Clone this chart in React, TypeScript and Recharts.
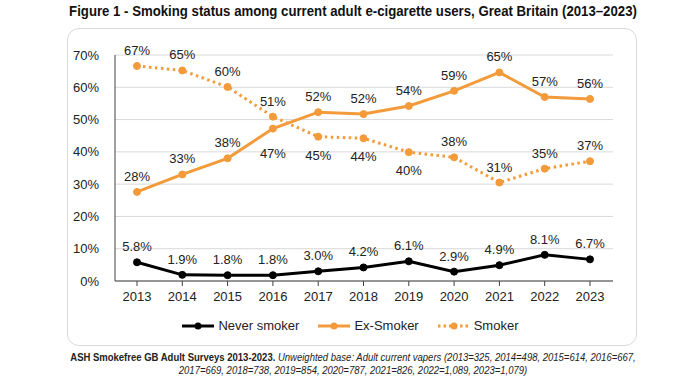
import { CartesianGrid, LabelList, Legend, Line, LineChart, XAxis, YAxis } from "recharts";

const years = ["2013", "2014", "2015", "2016", "2017", "2018", "2019", "2020", "2021", "2022", "2023"];
const neverSmoker = [5.8, 1.9, 1.8, 1.8, 3.0, 4.2, 6.1, 2.9, 4.9, 8.1, 6.7];
const exSmoker = [27.6, 33, 38, 47.2, 52.3, 51.7, 54.2, 58.9, 64.6, 57, 56.4];
const smoker = [66.6, 65.2, 60.1, 50.9, 44.7, 44.2, 39.9, 38.3, 30.5, 34.8, 37.1];
const yTicks = [0, 10, 20, 30, 40, 50, 60, 70];

// label sits under the point for these indices
const exBelow = [3];
const smokerBelow = [4, 5, 6];

const data = years.map((year, i) => ({
  year,
  never: neverSmoker[i],
  ex: exSmoker[i],
  smoker: smoker[i]
}));

const ORANGE = "#f39b3a";
const FONT = "'Liberation Sans', Arial, sans-serif";

function makeLabel(below: number[], decimals: number, belowGap: number) {
  return (props: any) => {
    const { x, y, value, index } = props;
    const isBelow = below.includes(index);
    const cy = isBelow ? y + belowGap : y - 16;
    const text = decimals ? Number(value).toFixed(decimals) : String(Math.round(value));
    return (
      <text x={x} y={cy + 5} textAnchor="middle" fontSize={13} fill="#222" fontFamily={FONT}>
        {text}%
      </text>
    );
  };
}

function LegendContent() {
  const items = [
    { name: "Never smoker", color: "#000", dash: undefined, w: 3 },
    { name: "Ex-Smoker", color: ORANGE, dash: undefined, w: 3 },
    { name: "Smoker", color: ORANGE, dash: "2.5 3", w: 3 }
  ];
  return (
    <div style={{ display: "flex", justifyContent: "center", gap: 18, fontFamily: FONT, fontSize: 13, color: "#222" }}>
      {items.map((it) => (
        <div key={it.name} style={{ display: "flex", alignItems: "center", gap: 3 }}>
          <svg width={34} height={10}>
            <line x1={1} y1={5} x2={33} y2={5} stroke={it.color} strokeWidth={it.w} strokeDasharray={it.dash} />
            <circle cx={17} cy={5} r={3.5} fill={it.color} />
          </svg>
          <span>{it.name}</span>
        </div>
      ))}
    </div>
  );
}

export default function App() {
  return (
    <div style={{ position: "absolute", left: 0, top: 0, width: 700, height: 382, background: "#fff" }}>
      <div
        style={{
          position: "absolute",
          left: 3,
          width: 700,
          top: 2,
          textAlign: "center",
          fontFamily: FONT,
          fontWeight: "bold",
          fontSize: 15,
          color: "#111",
          transform: "scaleX(0.88)",
          transformOrigin: "350px 0"
        }}
      >
        Figure 1 - Smoking status among current adult e-cigarette users, Great Britain (2013–2023)
      </div>
      <div
        style={{
          position: "absolute",
          left: 67,
          top: 28,
          width: 570,
          height: 318,
          border: "1.5px solid #d9d9d9",
          borderRadius: 12,
          boxSizing: "border-box"
        }}
      />
      <div style={{ position: "absolute", left: 0, top: 0 }}>
        <LineChart width={700} height={345} data={data} margin={{ top: 55, right: 87, left: 0, bottom: 19 }}>
          <CartesianGrid vertical={false} stroke="#d9d9d9" strokeWidth={1} />
          <XAxis
            dataKey="year"
            padding={{ left: 22, right: 23 }}
            tickLine={{ stroke: "#404040" }}
            axisLine={{ stroke: "#404040" }}
            tickSize={5}
            tick={{ fontSize: 13, fill: "#222", fontFamily: FONT, dy: 4 }}
            height={30}
          />
          <YAxis
            domain={[0, 70]}
            ticks={yTicks}
            tickFormatter={(v) => `${v}%`}
            width={115}
            tickLine={false}
            axisLine={{ stroke: "#404040" }}
            tick={{ fontSize: 13, fill: "#222", fontFamily: FONT, dx: -8 }}
          />
          <Legend verticalAlign="bottom" content={LegendContent} wrapperStyle={{ position: "absolute", left: 0, top: 318, width: 700 }} />
          <Line
            dataKey="never"
            name="Never smoker"
            stroke="#000"
            strokeWidth={3}
            dot={{ r: 3.5, fill: "#000", stroke: "#000", strokeWidth: 1 }}
            isAnimationActive={false}
          >
            <LabelList dataKey="never" content={makeLabel([], 1, 17)} />
          </Line>
          <Line
            dataKey="ex"
            name="Ex-Smoker"
            stroke={ORANGE}
            strokeWidth={3}
            dot={{ r: 3.5, fill: ORANGE, stroke: ORANGE, strokeWidth: 1 }}
            isAnimationActive={false}
          >
            <LabelList dataKey="ex" content={makeLabel(exBelow, 0, 24)} />
          </Line>
          <Line
            dataKey="smoker"
            name="Smoker"
            stroke={ORANGE}
            strokeWidth={3}
            strokeDasharray="2.5 3.5"
            dot={{ r: 3.5, fill: ORANGE, stroke: ORANGE, strokeWidth: 1, strokeDasharray: "" }}
            isAnimationActive={false}
          >
            <LabelList dataKey="smoker" content={makeLabel(smokerBelow, 0, 18)} />
          </Line>
        </LineChart>
      </div>
      <div
        style={{
          position: "absolute",
          left: 3,
          width: 700,
          top: 351,
          textAlign: "center",
          fontFamily: FONT,
          fontSize: 10,
          lineHeight: "13px",
          color: "#222",
          transform: "scaleX(0.95)",
          transformOrigin: "350px 0"
        }}
      >
        <b>ASH Smokefree GB Adult Surveys 2013-2023.</b>{" "}
        <i>
          Unweighted base: Adult current vapers (2013=325, 2014=498, 2015=614, 2016=667,
          <br />
          2017=669, 2018=738, 2019=854, 2020=787, 2021=826, 2022=1,089, 2023=1,079)
        </i>
      </div>
    </div>
  );
}
